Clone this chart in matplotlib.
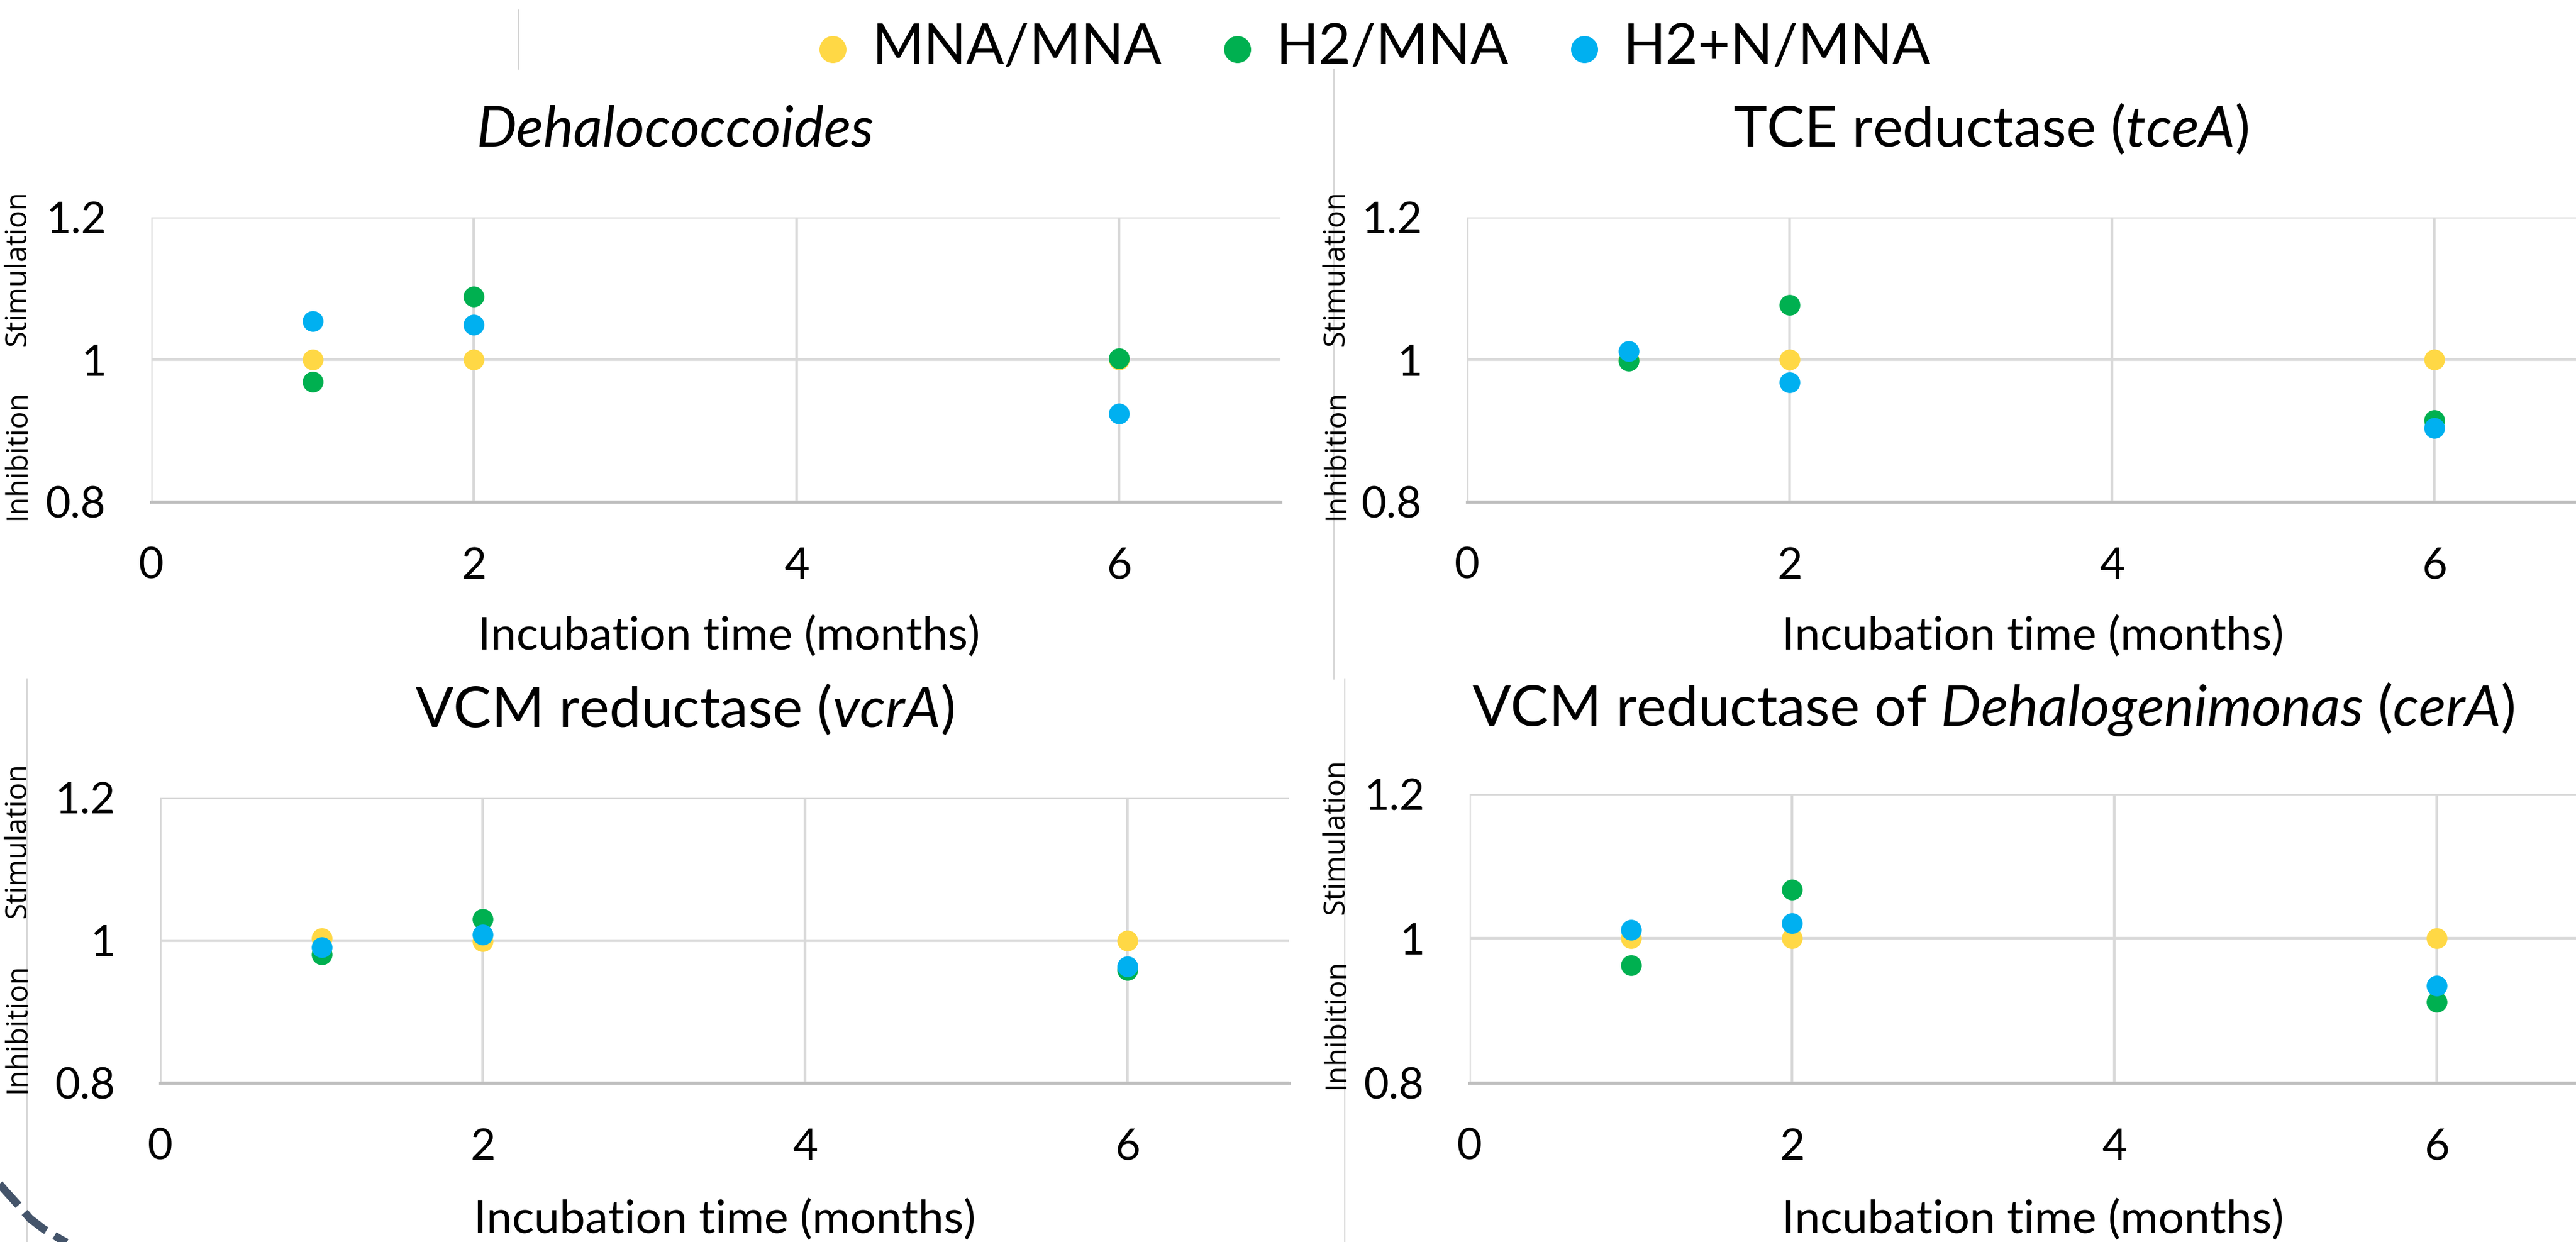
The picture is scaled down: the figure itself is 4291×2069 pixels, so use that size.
import matplotlib
matplotlib.use("Agg")
import matplotlib.pyplot as plt
from matplotlib.lines import Line2D

plt.rcParams['font.family'] = ['Lato', 'DejaVu Sans']
plt.rcParams['mathtext.fontset'] = 'custom'
plt.rcParams['mathtext.rm'] = 'Lato'
plt.rcParams['mathtext.it'] = 'Lato:italic'

# data
months = [1, 2, 6]
series_names = ['MNA/MNA', 'H2/MNA', 'H2+N/MNA']
series_colors = ['#FFD845', '#00B050', '#00B0F0']

dhc_mna = [1.0, 1.0, 1.0]
dhc_h2 = [0.969, 1.089, 1.002]
dhc_h2n = [1.054, 1.049, 0.924]

tcea_mna = [1.0, 1.0, 1.0]
tcea_h2 = [0.998, 1.077, 0.915]
tcea_h2n = [1.012, 0.968, 0.904]

vcra_mna = [1.003, 0.999, 1.0]
vcra_h2 = [0.980, 1.030, 0.958]
vcra_h2n = [0.990, 1.008, 0.963]

cera_mna = [1.0, 1.0, 1.0]
cera_h2 = [0.963, 1.068, 0.912]
cera_h2n = [1.012, 1.021, 0.935]

xticks = [0, 2, 4, 6]
yticks = [0.8, 1.0, 1.2]
ytick_labels = ['0.8', '1', '1.2']

W, H = 4291, 2069
fig = plt.figure(figsize=(W / 100, H / 100), dpi=100)


def fx(x):
    return x / W


def fy(y):
    return 1 - y / H


def make_panel(rect, title, title_pos, xlabel_pos, stim_pos, inh_pos, vals, italic=False):
    l, t, w, h = rect
    ax = fig.add_axes([fx(l), fy(t + h), w / W, h / H])
    for v, c, name in zip(vals, series_colors, series_names):
        ax.scatter(months, v, s=620, color=c, label=name, zorder=3, clip_on=False, linewidths=0)
    ax.set_xlim(0, 7)
    ax.set_ylim(0.8, 1.2)
    ax.set_xticks(xticks)
    ax.set_yticks(yticks)
    ax.set_yticklabels(ytick_labels)
    ax.grid(True, color='#D9D9D9', lw=3.2)
    ax.set_axisbelow(True)
    for s in ['top', 'right', 'left']:
        ax.spines[s].set_visible(False)
    ax.spines['bottom'].set_color('#BFBFBF')
    ax.spines['bottom'].set_linewidth(3.8)
    ax.tick_params(length=0, labelsize=52, pad=54)
    fig.text(fx(title_pos[0]), fy(title_pos[1]), title, fontsize=68, ha='center', va='baseline',
             fontstyle='italic' if italic else 'normal')
    fig.text(fx(xlabel_pos[0]), fy(xlabel_pos[1]), 'Incubation time (months)', fontsize=55,
             ha='center', va='baseline')
    fig.text(fx(stim_pos[0]), fy(stim_pos[1]), 'Stimulation', fontsize=35, rotation=90,
             ha='center', va='center', family='Open Sans')
    fig.text(fx(inh_pos[0]), fy(inh_pos[1]), 'Inhibition', fontsize=35, rotation=90,
             ha='center', va='center', family='Open Sans')
    return ax


ax1 = make_panel((252, 362, 1881, 474), 'Dehalococcoides', (1125, 244), (1214, 1082),
                 (30, 447), (30, 758), [dhc_mna, dhc_h2, dhc_h2n], italic=True)
ax2 = make_panel((2444, 362, 1880, 474), r'TCE reductase ($\mathit{tceA}$)', (3316, 244), (3386, 1082),
                 (2226, 447), (2226, 758), [tcea_mna, tcea_h2, tcea_h2n])
ax3 = make_panel((267, 1329, 1880, 475), r'VCM reductase ($\mathit{vcrA}$)', (1140, 1211), (1207, 2054),
                 (30, 1400), (30, 1713), [vcra_mna, vcra_h2, vcra_h2n])
ax4 = make_panel((2448, 1323, 1880, 481),
                 r'VCM reductase of $\mathit{Dehalogenimonas}$ ($\mathit{cerA}$)', (3320, 1209), (3386, 2054),
                 (2226, 1394), (2226, 1706), [cera_mna, cera_h2, cera_h2n])

# legend on top
handles, labels = ax1.get_legend_handles_labels()
fig.legend(handles, labels, loc='center', bbox_to_anchor=(fx(2290), fy(80)), ncol=3,
           frameon=False, fontsize=67, markerscale=1.3, handlelength=0.5,
           handletextpad=0.45, columnspacing=1.1, borderpad=0)

# thin separator lines from the pasted slide
sep = dict(color='#D6D6D6', lw=1.6, transform=fig.transFigure)
fig.add_artist(Line2D([fx(864), fx(864)], [fy(17), fy(115)], **sep))
fig.add_artist(Line2D([fx(2222), fx(2222)], [fy(116), fy(1131)], **sep))
fig.add_artist(Line2D([fx(2240), fx(2240)], [fy(1131), fy(H)], **sep))
fig.add_artist(Line2D([fx(45), fx(45)], [fy(1131), fy(H)], **sep))

# dashed arc in the corner
arc_x = [-10, 10, 30, 50, 72, 100, 120]
arc_y = [1962, 1985, 2007, 2030, 2047, 2064, 2075]
fig.add_artist(Line2D([fx(v) for v in arc_x], [fy(v) for v in arc_y], color='#44546A', lw=9.5,
                      dashes=(3.6, 1.2), transform=fig.transFigure))

fig.savefig('out.png', dpi=100)
